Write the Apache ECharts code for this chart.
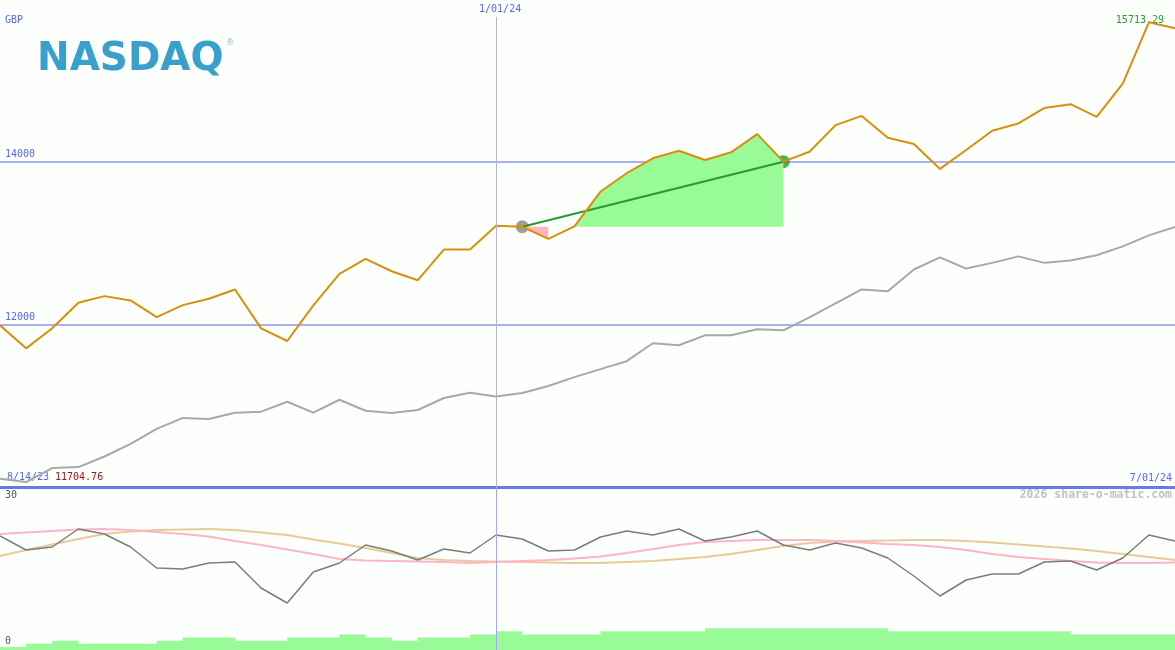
<!DOCTYPE html>
<html><head><meta charset="utf-8">
<script src="https://cdn.jsdelivr.net/npm/echarts@6/dist/echarts.min.js"></script>
<style>html,body{margin:0;padding:0;background:#fcfffc}#c{width:1175px;height:650px}</style>
</head><body><div id="c"></div>
<script>
// ---------- data (weekly points, index 0 = 8/14/23) ----------
const priceIndex = [
  11988,11705,11951,12266,12347,12294,12089,12236,12315,12429,
  11951,11795,12233,12621,12805,12653,12543,12919,12919,13212,
  13200,13050,13204,13633,13858,14042,14135,14021,14115,14339,
  14000,14122,14449,14563,14294,14217,13911,14143,14380,14470,
  14661,14707,14551,14960,15713.29,15641];
const compareLine = [
  10102,10061,10233,10245,10375,10530,10714,10849,10837,10914,
  10926,11048,10914,11073,10938,10910,10947,11094,11159,11112,
  11155,11241,11351,11449,11547,11767,11743,11865,11865,11939,
  11927,12086,12257,12429,12408,12674,12824,12686,12756,12836,
  12756,12784,12849,12959,13094,13197];
const oscillator = [
  22.8,20.0,20.6,24.2,23.2,20.6,16.4,16.2,17.4,17.6,
  12.4,9.4,15.6,17.4,21.0,19.8,18.0,20.2,19.4,23.0,
  22.2,19.8,20.0,22.6,23.8,23.0,24.2,21.8,22.6,23.8,
  21.0,20.0,21.4,20.4,18.4,14.8,10.8,14.0,15.2,15.2,
  17.6,17.8,16.0,18.4,23.0,21.8];
const oscAvgPink = [
  23.2,23.5,23.8,24.1,24.2,24.0,23.6,23.2,22.7,21.8,
  21.0,20.1,19.2,18.2,17.9,17.8,17.7,17.6,17.4,17.6,
  17.8,18.0,18.3,18.7,19.4,20.2,21.0,21.6,21.8,22.0,
  22.0,22.0,21.8,21.5,21.2,21.0,20.6,20.0,19.2,18.6,
  18.2,17.8,17.5,17.4,17.4,17.5];
const oscAvgTan = [
  18.8,20.0,21.1,22.2,23.2,23.7,24.0,24.1,24.2,24.0,
  23.5,23.0,22.1,21.3,20.4,19.4,18.4,18.0,17.8,17.7,
  17.6,17.5,17.4,17.4,17.6,17.8,18.2,18.6,19.2,20.0,
  20.8,21.4,21.7,21.8,21.9,22.0,22.0,21.8,21.5,21.1,
  20.7,20.3,19.8,19.2,18.6,18.0];
const volume = [
  1,2,3,2,2,2,3,4,4,3,
  3,4,4,5,4,3,4,4,5,6,
  5,5,5,6,6,6,6,7,7,7,
  7,7,7,7,6,6,6,6,6,6,
  6,5,5,5,5,5];
const yTickLabels = [12000, 14000];
const markDate = '1/01/24', markIndex = 19;
const startDate = '8/14/23', endDate = '7/01/24';
const minLabel = '11704.76', maxLabel = '15713.29';
const trendStart = 20, trendEnd = 30, lossEnd = 21;
const currency = 'GBP';
const lowerTopLabel = '30', lowerBottomLabel = '0';
const credit = '2026 share-o-matic.com';

// ---------- build ----------
const pts = arr => arr.map((v, i) => [i, v]);
const base = priceIndex[trendStart];
const gainArea = [], lossArea = [];
for (let i = trendStart; i <= trendEnd; i++) gainArea.push([i, Math.max(priceIndex[i], base)]);
for (let i = trendStart; i <= lossEnd; i++) lossArea.push([i, Math.min(priceIndex[i], base)]);

const mono = 'DejaVu Sans Mono';
const chart = echarts.init(document.getElementById('c'), null, {renderer: 'canvas'});
const txt = (text, pos, style) => Object.assign({type: 'text', silent: true,
  style: Object.assign({text, font: '10px "' + mono + '"'}, style)}, pos);

chart.setOption({
  animation: false,
  backgroundColor: '#fcfffc',
  grid: [
    {left: 0, right: 0, top: 0, height: 487},
    {left: 0, right: 0, top: 487, height: 163}
  ],
  xAxis: [
    {gridIndex: 0, type: 'value', min: 0, max: priceIndex.length - 1,
     axisLine: {show: true, onZero: false, lineStyle: {color: '#6878f0', width: 3}},
     axisTick: {show: false}, axisLabel: {show: false}, splitLine: {show: false}},
    {gridIndex: 1, type: 'value', min: 0, max: priceIndex.length - 1, show: false}
  ],
  yAxis: [
    {gridIndex: 0, type: 'value', min: 10000, max: 15988, interval: 2000,
     axisLine: {show: false}, axisTick: {show: false},
     splitLine: {show: true, showMaxLine: false, lineStyle: {color: '#a6b0f2', width: 2}},
     axisLabel: {inside: true, margin: 5, verticalAlign: 'bottom', padding: [0, 0, 2, 0],
       fontFamily: mono, fontSize: 10, color: '#5566ee',
       formatter: v => yTickLabels.includes(v) ? String(v) : ''}},
    {gridIndex: 1, type: 'value', min: 0, max: 32.6, show: false},
    {gridIndex: 1, type: 'value', min: 0, max: 52.3, show: false}
  ],
  series: [
    // vertical date marker (main panel)
    {type: 'line', xAxisIndex: 0, yAxisIndex: 0, data: [], silent: true,
     markLine: {silent: true, symbol: ['none', 'none'],
       lineStyle: {color: '#b4b6cc', width: 1, type: 'solid'},
       label: {show: true, position: 'start', distance: 3, formatter: markDate,
         color: '#5566ee', fontFamily: mono, fontSize: 10, offset: [4, 0]},
       data: [[{coord: [markIndex, 15780]}, {coord: [markIndex, 10000]}]]}},
    // volume
    {type: 'line', xAxisIndex: 1, yAxisIndex: 2, step: 'end', symbol: 'none', silent: true,
     lineStyle: {width: 0}, areaStyle: {color: '#98fb98', opacity: 1}, data: pts(volume)},
    // oscillator averages
    {type: 'line', xAxisIndex: 1, yAxisIndex: 1, symbol: 'none', silent: true,
     lineStyle: {color: '#e5cc99', width: 2}, data: pts(oscAvgTan)},
    {type: 'line', xAxisIndex: 1, yAxisIndex: 1, symbol: 'none', silent: true,
     lineStyle: {color: '#ffb4c8', width: 2}, data: pts(oscAvgPink)},
    // oscillator
    {type: 'line', xAxisIndex: 1, yAxisIndex: 1, symbol: 'none', silent: true,
     lineStyle: {color: '#7c7c7c', width: 1.5}, data: pts(oscillator),
     markLine: {silent: true, symbol: ['none', 'none'], label: {show: false},
       lineStyle: {color: '#a0aaf0', width: 1, type: 'solid'},
       data: [{xAxis: markIndex}]}},
    // gain / loss shading
    {type: 'line', xAxisIndex: 0, yAxisIndex: 0, symbol: 'none', silent: true,
     lineStyle: {width: 0}, areaStyle: {color: '#98fb98', opacity: 1, origin: base}, data: gainArea},
    {type: 'line', xAxisIndex: 0, yAxisIndex: 0, symbol: 'none', silent: true,
     lineStyle: {width: 0}, areaStyle: {color: '#ffb6c1', opacity: 1, origin: base}, data: lossArea},
    // comparison line
    {type: 'line', xAxisIndex: 0, yAxisIndex: 0, symbol: 'none', silent: true,
     lineStyle: {color: '#a8a8a8', width: 2}, data: pts(compareLine)},
    // trend line
    {type: 'line', xAxisIndex: 0, yAxisIndex: 0, symbol: 'none', silent: true,
     lineStyle: {color: '#2a9a2a', width: 2},
     data: [[trendStart, priceIndex[trendStart]], [trendEnd, priceIndex[trendEnd]]]},
    {type: 'scatter', xAxisIndex: 0, yAxisIndex: 0, symbolSize: 13, silent: true,
     itemStyle: {color: '#858585'}, data: [[trendStart, priceIndex[trendStart]]]},
    {type: 'scatter', xAxisIndex: 0, yAxisIndex: 0, symbolSize: 13, silent: true,
     itemStyle: {color: '#2a9a2a'}, data: [[trendEnd, priceIndex[trendEnd]]]},
    // price line
    {type: 'line', xAxisIndex: 0, yAxisIndex: 0, symbol: 'none', silent: true,
     lineStyle: {color: '#d8900a', width: 2}, data: pts(priceIndex)}
  ],
  graphic: [
    txt(currency, {left: 5, top: 15}, {fill: '#5566ee'}),
    txt(maxLabel, {right: 11, top: 15}, {fill: '#2e9a2e'}),
    txt(startDate, {left: 7, top: 472}, {fill: '#5566ee'}),
    txt(minLabel, {left: 55, top: 472}, {fill: '#a01818'}),
    txt(endDate, {right: 3, top: 473}, {fill: '#5566ee'}),
    txt(credit, {right: 3, top: 489}, {fill: '#c2c2c2', font: 'bold 11.5px "' + mono + '"'}),
    txt(lowerTopLabel, {left: 5, top: 490}, {fill: '#555555'}),
    txt(lowerBottomLabel, {left: 5, top: 636}, {fill: '#555555'}),
    {type: 'text', silent: true, left: 37, top: 40,
     style: {text: 'NASDAQ', font: 'bold 39px "DejaVu Sans"', fill: '#39a0cb'}},
    {type: 'text', silent: true, left: 226, top: 39,
     style: {text: '®', font: '8px "DejaVu Sans"', fill: '#8cbcd8'}}
  ]
});
</script></body></html>
